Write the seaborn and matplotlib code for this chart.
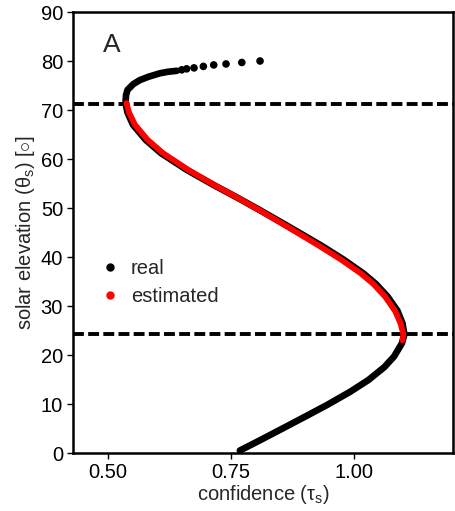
import numpy as np
import pandas as pd
import matplotlib
matplotlib.use("Agg")
import matplotlib.pyplot as plt
import seaborn as sns
from matplotlib.lines import Line2D

# --- data ---
real_theta = [0.5, 2.5, 4.7, 7.5, 9.8, 12.5, 14.9, 17.5, 19.7, 22.4, 24.2, 26.5,
              29.0, 31.9, 34.5, 36.7, 39.5, 42.1, 44.1, 46.5, 49.6, 52.0, 54.8,
              57.8, 61.2, 63.9, 67.0, 69.5, 71.4, 73.0, 74.1, 75.3, 76.1, 76.8,
              77.5, 77.8, 78.0]
real_tau = [0.768, 0.807, 0.849, 0.902, 0.945, 0.992, 1.029, 1.061, 1.081, 1.097,
            1.102, 1.098, 1.088, 1.068, 1.044, 1.018, 0.978, 0.937, 0.903, 0.862,
            0.808, 0.765, 0.713, 0.660, 0.608, 0.577, 0.551, 0.540, 0.536, 0.537,
            0.540, 0.552, 0.565, 0.583, 0.606, 0.622, 0.640]
# sparse measured points near the top of the curve
top_theta = [78.2, 78.4, 78.6, 78.9, 79.2, 79.4, 79.7, 80.0]
top_tau = [0.650, 0.660, 0.675, 0.694, 0.715, 0.740, 0.772, 0.809]

est_theta = [23.0, 24.2, 26.5, 29.0, 31.9, 34.5, 36.7, 39.5, 42.1, 44.1, 46.5,
             49.6, 52.0, 54.8, 57.8, 61.2, 63.9, 67.0, 69.5, 71.4]
est_tau = [1.098, 1.100, 1.094, 1.083, 1.063, 1.039, 1.013, 0.973, 0.932, 0.899,
           0.859, 0.807, 0.765, 0.714, 0.663, 0.612, 0.581, 0.555, 0.543, 0.538]

hlines = [71.3, 24.3]
x_ticks = [0.50, 0.75, 1.00]
x_ticklabels = ["0.50", "0.75", "1.00"]
y_ticks = list(range(0, 91, 10))

real_df = pd.DataFrame({"tau": real_tau, "theta": real_theta})
top_df = pd.DataFrame({"tau": top_tau, "theta": top_theta})
est_df = pd.DataFrame({"tau": est_tau, "theta": est_theta})

sns.set_style("ticks")
plt.rcParams["font.family"] = ["Liberation Sans", "DejaVu Sans"]
plt.rcParams["mathtext.fontset"] = "custom"
plt.rcParams["mathtext.rm"] = "Liberation Sans"
plt.rcParams["mathtext.it"] = "Liberation Sans:italic"

FS = 14.5

fig = plt.figure(figsize=(4.55, 5.11), dpi=100)
ax = fig.add_axes([0.160, 0.1135, 0.836, 0.863])

for h in hlines:
    ax.axhline(h, color="black", lw=2.8, ls=(0, (2.8, 1.1)), zorder=2)

sns.lineplot(data=real_df, x="tau", y="theta", sort=False, estimator=None,
             color="black", lw=4.8, ax=ax, zorder=3,
             solid_capstyle="round", solid_joinstyle="round")
sns.scatterplot(data=top_df, x="tau", y="theta", color="black", s=30,
                edgecolor="none", ax=ax, zorder=3)
sns.lineplot(data=est_df, x="tau", y="theta", sort=False, estimator=None,
             color="#ff0000", lw=4.2, ax=ax, zorder=4,
             solid_capstyle="round", solid_joinstyle="round")

ax.set_xlim(0.429, 1.201)
ax.set_ylim(0, 90)
ax.set_xticks(x_ticks)
ax.set_xticklabels(x_ticklabels)
ax.set_yticks(y_ticks)
ax.tick_params(direction="out", length=4, width=1, labelsize=FS, colors="black", pad=3)

for sp in ax.spines.values():
    sp.set_visible(True)
    sp.set_color("black")
    sp.set_linewidth(1.8)

ax.set_xlabel("confidence (τ$_\\mathregular{s}$)", fontsize=FS, labelpad=1)
ax.set_ylabel("solar elevation (θ$_\\mathregular{s}$) [$\\circ$]", fontsize=FS, labelpad=3)

ax.text(0.508, 83.3, "A", fontsize=19, ha="center", va="center")

handles = [Line2D([], [], ls="none", marker="o", color="black", markersize=5),
           Line2D([], [], ls="none", marker="o", color="#ff0000", markersize=5)]
ax.legend(handles, ["real", "estimated"], loc="center left",
          bbox_to_anchor=(0.078, 0.387), frameon=False, fontsize=FS,
          handlelength=0.7, handletextpad=0.7, labelspacing=0.45,
          borderpad=0, borderaxespad=0)

fig.savefig("out.png", dpi=100)
